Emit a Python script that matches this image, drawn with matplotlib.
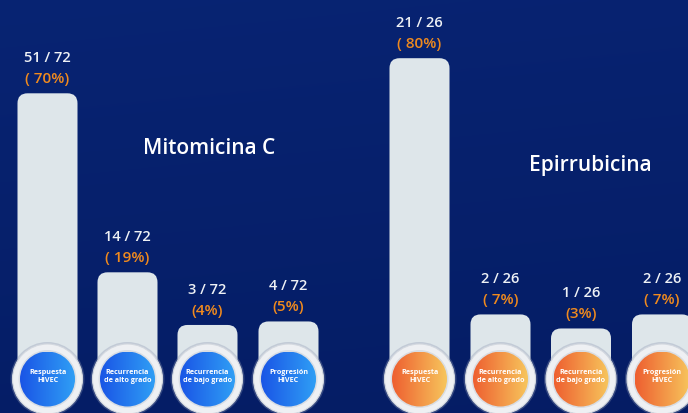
import numpy as np
import matplotlib
matplotlib.use("Agg")
import matplotlib.pyplot as plt
from matplotlib.patches import FancyBboxPatch, Ellipse
from matplotlib.colors import LinearSegmentedColormap

# ---- data ----
categories = ["Respuesta\nHIVEC", "Recurrencia\nde alto grado",
              "Recurrencia\nde bajo grado", "Progresión\nHIVEC"]
mito_pct = [70, 19, 4, 5]
mito_frac = ["51 / 72", "14 / 72", "3 / 72", "4 / 72"]
mito_pct_labels = ["( 70%)", "( 19%)", "(4%)", "(5%)"]
epi_pct = [80, 7, 3, 7]
epi_frac = ["21 / 26", "2 / 26", "1 / 26", "2 / 26"]
epi_pct_labels = ["( 80%)", "( 7%)", "(3%)", "( 7%)"]
group_titles = ["Mitomicina C", "Epirrubicina"]

# ---- layout (pixel based) ----
W, H = 688, 413
PX = 3.51          # pixels per percent
BASE = 339         # pixel row of 0 %
def ydata(pix):
    return (BASE - pix) / PX

fig = plt.figure(figsize=(W / 100, H / 100), dpi=100)
ax = fig.add_axes([0, 0, 1, 1])
ax.set_xlim(0, W)
ax.set_ylim(ydata(H), ydata(0))
ax.axis("off")

# background gradient
yy, xx = np.mgrid[0:1:200j, 0:1:300j]
t = np.clip(0.6 * yy + 0.1 * xx, 0, 1)
top = np.array([0.03, 0.14, 0.45])
bot = np.array([0.015, 0.10, 0.37])
img = top[None, None, :] * (1 - t[..., None]) + bot[None, None, :] * t[..., None]
ax.imshow(img, extent=[0, W, ydata(H), ydata(0)], aspect="auto", zorder=0,
          origin="upper")

FONT = ["Open Sans", "DejaVu Sans"]
bar_w = 60
bar_color = "#dee6ea"
orange = "#f08a1e"

blue_cmap = LinearSegmentedColormap.from_list("b", ["#1a55e6", "#2f9ef5"])
orange_cmap = LinearSegmentedColormap.from_list("o", ["#ee5f30", "#f7c55c"])

groups = [
    (mito_pct, mito_frac, mito_pct_labels, [47.5, 127.5, 207.5, 288.5], blue_cmap),
    (epi_pct, epi_frac, epi_pct_labels, [419.5, 500.5, 581.0, 662.0], orange_cmap),
]

cy_pix = 379
r_out, r_in = 35, 27.5
for vals, fracs, plabs, xs, cmap in groups:
    for v, fr, pl, x, cat in zip(vals, fracs, plabs, xs, categories):
        bottom = ydata(cy_pix)
        bar = FancyBboxPatch((x - bar_w / 2, bottom), bar_w, v - bottom,
                             boxstyle="round,pad=0,rounding_size=10",
                             mutation_aspect=1 / PX, fc=bar_color, ec="none",
                             zorder=2)
        ax.add_patch(bar)
        ax.text(x, v + 35 / PX, fr, ha="center", va="center", color="#eef1f5",
                fontsize=10.5, family=FONT, fontweight="semibold", zorder=5)
        ax.text(x, v + 14 / PX, pl, ha="center", va="center", color=orange,
                fontsize=11, family=FONT, fontweight="semibold", zorder=5)
        cy = ydata(cy_pix)
        # shadow + ring
        ax.add_patch(Ellipse((x, cy), 2 * (r_out + 2), 2 * (r_out + 2) / PX,
                             fc="#8e98b2", ec="none", alpha=0.35, zorder=3))
        ax.add_patch(Ellipse((x, cy), 2 * r_out, 2 * r_out / PX,
                             fc="#eef0f3", ec="#d3d8df", lw=0.8, zorder=3))
        ax.add_patch(Ellipse((x, cy), 2 * (r_in + 1.5), 2 * (r_in + 1.5) / PX,
                             fc="#d9dde3", ec="none", zorder=3))
        inner = Ellipse((x, cy), 2 * r_in, 2 * r_in / PX, fc="none",
                        ec="none", zorder=4)
        ax.add_patch(inner)
        grad = np.linspace(0, 1, 100)[None, :]
        grad = np.repeat(grad, 10, axis=0)
        im = ax.imshow(grad, cmap=cmap, extent=[x - r_in, x + r_in,
                       cy - r_in / PX, cy + r_in / PX], aspect="auto",
                       zorder=4)
        im.set_clip_path(inner)
        ax.text(x, ydata(cy_pix - 3), cat, ha="center", va="center",
                color="white", fontsize=5.2, family=FONT, fontweight="bold",
                linespacing=1.2, zorder=6)

ax.text(209, ydata(148), group_titles[0], ha="center", va="center",
        color="white", fontsize=15, family=FONT, fontweight="semibold")
ax.text(590, ydata(165), group_titles[1], ha="center", va="center",
        color="white", fontsize=15, family=FONT, fontweight="semibold")

fig.savefig("out.png", dpi=100)
